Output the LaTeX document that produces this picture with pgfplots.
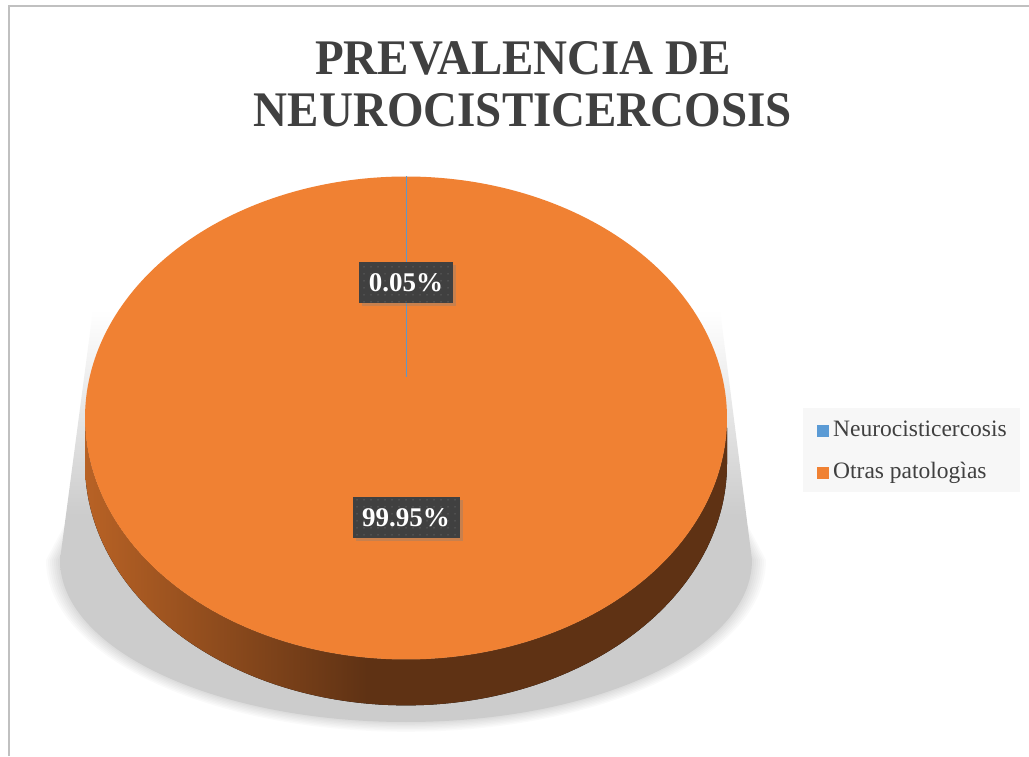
\documentclass[border=0pt]{standalone}
\usepackage{pgfplots}
\pgfplotsset{compat=1.18}
\usepackage{pgfplotstable}
\usepackage{fontspec}
\setmainfont{Liberation Serif}
\usetikzlibrary{shadows,patterns.meta}
\definecolor{pieorange}{RGB}{240,129,51}
\definecolor{pieblue}{RGB}{91,155,213}
\definecolor{sidelight}{RGB}{184,98,37}
\definecolor{sidedark}{RGB}{95,50,20}
\definecolor{labelgray}{RGB}{64,64,64}
\definecolor{dotgray}{RGB}{98,98,98}
\definecolor{legendbg}{RGB}{247,247,247}
\definecolor{textgray}{RGB}{64,64,64}
\definecolor{framegray}{RGB}{192,192,192}
\definecolor{shgray}{RGB}{204,204,204}
% path bounding box maps to 25bp..75bp of these shadings
\pgfdeclarehorizontalshading{pieside}{100bp}{color(0bp)=(sidelight); color(25bp)=(sidelight); color(47bp)=(sidedark); color(100bp)=(sidedark)}
\pgfdeclareverticalshading{shadowshade}{100bp}{color(0bp)=(shgray); color(50bp)=(shgray); color(75bp)=(white); color(100bp)=(white)}
\pgfplotstableread{
label value
Neurocisticercosis 0.05
Otras 99.95
}\piedata
\pgfplotstablegetelem{0}{value}\of\piedata
\let\vA\pgfplotsretval
\pgfmathsetmacro\angA{360*\vA/100}
\begin{document}
\begin{tikzpicture}[x=1pt,y=1pt]
\useasboundingbox (0,0) rectangle (1029,756);
\fill[white] (0,0) rectangle (1029,756);
% soft shadow behind the pie: blurred fringe
\foreach \d in {2,4,...,14}{
  \fill[black, opacity=0.02] (120,336) -- ({60-\d},196)
     arc[start angle=180, end angle=360, x radius={(346+\d)*1pt}, y radius={(162+0.7*\d)*1pt}]
     -- (692,336) -- cycle;
}
% shadow core, fading upward
\shade[shading=shadowshade] (93,446) -- (60,196)
     arc[start angle=180, end angle=360, x radius=346pt, y radius=162pt]
     -- (720,446) -- cycle;
\begin{axis}[
  at={(406pt,338pt)}, anchor=center,
  scale only axis, width=642pt, height=483pt,
  xmin=-1, xmax=1, ymin=-1, ymax=1,
  hide axis, clip=false,
]
% side of the pie
\fill[shading=pieside] plot[domain=180:360, samples=200, variable=\t] ({cos(\t)},{sin(\t)})
  -- plot[domain=360:180, samples=200, variable=\t] ({cos(\t)},{sin(\t)-0.19}) -- cycle;
% top face: Otras patologias
\fill[pieorange] (axis cs:0,0) -- plot[domain={90-\angA}:-270, samples=400, variable=\t] ({cos(\t)},{sin(\t)}) -- cycle;
% top face: Neurocisticercosis
\fill[pieblue] (axis cs:0,0.17) -- plot[domain=90:{90-\angA}, samples=2, variable=\t] ({cos(\t)},{sin(\t)}) -- cycle;
\draw[pieblue!85!gray, line width=0.8pt] (axis cs:0,0.17) -- (axis cs:0,1);
% data labels
\tikzset{lbl/.style={fill=labelgray, text=white, inner sep=0pt,
  font=\fontsize{27}{27}\selectfont\bfseries, minimum height=41pt,
  drop shadow={shadow xshift=3pt, shadow yshift=-3pt, opacity=0.35},
  postaction={pattern={Dots[distance=6.5pt,radius=0.8pt]}, pattern color=dotgray}}}
\node[lbl, minimum width=94pt] at (axis cs:0,0.561) {0.05\%};
\node[lbl, minimum width=107pt] at (axis cs:0,-0.414) {99.95\%};
\end{axis}
% legend
\fill[legendbg] (803,348) rectangle (1020,264);
\fill[pieblue] (817,331) rectangle (829,319);
\fill[pieorange] (817,289) rectangle (829,277);
\node[anchor=base west, inner sep=0pt, text=textgray, font=\fontsize{23.5}{23.5}\selectfont] at (833,319) {Neurocisticercosis};
\node[anchor=base west, inner sep=0pt, text=textgray, font=\fontsize{23.5}{23.5}\selectfont] at (833,277) {Otras patologìas};
% title
\node[anchor=base, inner sep=0pt, text=textgray, font=\fontsize{47}{47}\selectfont\bfseries, yscale=1.06, transform shape] at (523,681) {PREVALENCIA DE};
\node[anchor=base, inner sep=0pt, text=textgray, font=\fontsize{47}{47}\selectfont\bfseries, yscale=1.06, transform shape] at (523,629) {NEUROCISTICERCOSIS};
% frame (top and left edges)
\draw[framegray, line width=2pt] (8.5,0) -- (8.5,750) -- (1029,750);
\end{tikzpicture}
\end{document}
